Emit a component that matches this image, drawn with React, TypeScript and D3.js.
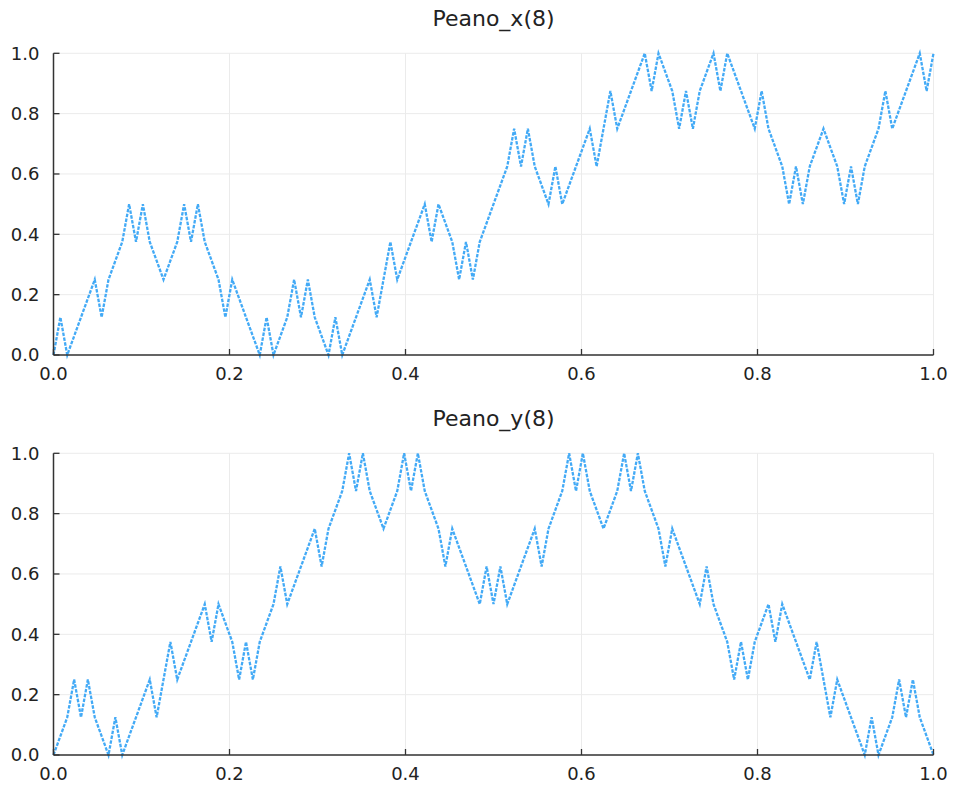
import React from "react";
import * as d3 from "d3";

// Values at 129 evenly spaced samples of t in [0, 1]
const peanoX = [
  0, 0.125, 0, 0.0625, 0.125, 0.1875, 0.25, 0.125, 0.25, 0.3125, 0.375, 0.5, 0.375, 0.5, 0.375, 0.3125,
  0.25, 0.3125, 0.375, 0.5, 0.375, 0.5, 0.375, 0.3125, 0.25, 0.125, 0.25, 0.1875, 0.125, 0.0625, 0, 0.125,
  0, 0.0625, 0.125, 0.25, 0.125, 0.25, 0.125, 0.0625, 0, 0.125, 0, 0.0625, 0.125, 0.1875, 0.25, 0.125,
  0.25, 0.375, 0.25, 0.3125, 0.375, 0.4375, 0.5, 0.375, 0.5, 0.4375, 0.375, 0.25, 0.375, 0.25, 0.375, 0.4375,
  0.5, 0.5625, 0.625, 0.75, 0.625, 0.75, 0.625, 0.5625, 0.5, 0.625, 0.5, 0.5625, 0.625, 0.6875, 0.75, 0.625,
  0.75, 0.875, 0.75, 0.8125, 0.875, 0.9375, 1, 0.875, 1, 0.9375, 0.875, 0.75, 0.875, 0.75, 0.875, 0.9375,
  1, 0.875, 1, 0.9375, 0.875, 0.8125, 0.75, 0.875, 0.75, 0.6875, 0.625, 0.5, 0.625, 0.5, 0.625, 0.6875,
  0.75, 0.6875, 0.625, 0.5, 0.625, 0.5, 0.625, 0.6875, 0.75, 0.875, 0.75, 0.8125, 0.875, 0.9375, 1, 0.875,
  1,
];

const peanoY = [
  0, 0.0625, 0.125, 0.25, 0.125, 0.25, 0.125, 0.0625, 0, 0.125, 0, 0.0625, 0.125, 0.1875, 0.25, 0.125,
  0.25, 0.375, 0.25, 0.3125, 0.375, 0.4375, 0.5, 0.375, 0.5, 0.4375, 0.375, 0.25, 0.375, 0.25, 0.375, 0.4375,
  0.5, 0.625, 0.5, 0.5625, 0.625, 0.6875, 0.75, 0.625, 0.75, 0.8125, 0.875, 1, 0.875, 1, 0.875, 0.8125,
  0.75, 0.8125, 0.875, 1, 0.875, 1, 0.875, 0.8125, 0.75, 0.625, 0.75, 0.6875, 0.625, 0.5625, 0.5, 0.625,
  0.5, 0.625, 0.5, 0.5625, 0.625, 0.6875, 0.75, 0.625, 0.75, 0.8125, 0.875, 1, 0.875, 1, 0.875, 0.8125,
  0.75, 0.8125, 0.875, 1, 0.875, 1, 0.875, 0.8125, 0.75, 0.625, 0.75, 0.6875, 0.625, 0.5625, 0.5, 0.625,
  0.5, 0.4375, 0.375, 0.25, 0.375, 0.25, 0.375, 0.4375, 0.5, 0.375, 0.5, 0.4375, 0.375, 0.3125, 0.25, 0.375,
  0.25, 0.125, 0.25, 0.1875, 0.125, 0.0625, 0, 0.125, 0, 0.0625, 0.125, 0.25, 0.125, 0.25, 0.125, 0.0625,
  0,
];

const xTicks = [0, 0.2, 0.4, 0.6, 0.8, 1.0];
const yTicks = [0, 0.2, 0.4, 0.6, 0.8, 1.0];
const titles = ["Peano_x(8)", "Peano_y(8)"];

const W = 953;
const H = 789;
const LEFT = 53.5;
const RIGHT = 933.5;
const PLOT_H = 301.7;
const TOPS = [53.3, 453.3];
const FONT = "'DejaVu Sans', sans-serif";
const LINE_COLOR = "#43aaf6";

function Panel({ title, values, top }: { title: string; values: number[]; top: number }) {
  const x = d3.scaleLinear().domain([0, 1]).range([LEFT, RIGHT]);
  const y = d3.scaleLinear().domain([0, 1]).range([top + PLOT_H, top]);
  const idx = d3.scaleLinear().domain([0, values.length - 1]).range([0, 1]);
  const line = d3
    .line<number>()
    .x((_, i) => x(idx(i)))
    .y((v) => y(v));
  const fmt = d3.format(".1f");
  const bottom = top + PLOT_H;
  return (
    <g>
      <text x={(LEFT + RIGHT) / 2} y={top - 27.6} textAnchor="middle" fontFamily={FONT} fontSize={22} fill="#222">
        {title}
      </text>
      {xTicks.map((t) => (
        <line key={"gx" + t} x1={x(t)} x2={x(t)} y1={top} y2={bottom} stroke="#ebebeb" strokeWidth={1} />
      ))}
      {yTicks.map((t) => (
        <line key={"gy" + t} x1={LEFT} x2={RIGHT} y1={y(t)} y2={y(t)} stroke="#ebebeb" strokeWidth={1} />
      ))}
      <path
        d={line(values) || ""}
        fill="none"
        stroke={LINE_COLOR}
        strokeWidth={2.3}
        strokeDasharray="3.5 1.4"
        strokeLinejoin="miter"
      />
      <line x1={LEFT} x2={LEFT} y1={top} y2={bottom} stroke="#333" strokeWidth={1.5} />
      <line x1={LEFT} x2={RIGHT} y1={bottom} y2={bottom} stroke="#333" strokeWidth={1.5} />
      {xTicks.map((t) => (
        <g key={"tx" + t}>
          <line x1={x(t)} x2={x(t)} y1={bottom} y2={bottom - 6} stroke="#333" strokeWidth={1.3} />
          <text x={x(t)} y={bottom + 25} textAnchor="middle" fontFamily={FONT} fontSize={18} fill="#222">
            {fmt(t)}
          </text>
        </g>
      ))}
      {yTicks.map((t) => (
        <g key={"ty" + t}>
          <line x1={LEFT} x2={LEFT + 6} y1={y(t)} y2={y(t)} stroke="#333" strokeWidth={1.3} />
          <text x={LEFT - 14} y={y(t)} dy="0.35em" textAnchor="end" fontFamily={FONT} fontSize={18} fill="#222">
            {fmt(t)}
          </text>
        </g>
      ))}
    </g>
  );
}

export default function App() {
  return (
    <svg width={W} height={H} style={{ position: "absolute", left: 0, top: 0, background: "#fff" }}>
      <rect x={0} y={0} width={W} height={H} fill="#fff" />
      <Panel title={titles[0]} values={peanoX} top={TOPS[0]} />
      <Panel title={titles[1]} values={peanoY} top={TOPS[1]} />
    </svg>
  );
}
